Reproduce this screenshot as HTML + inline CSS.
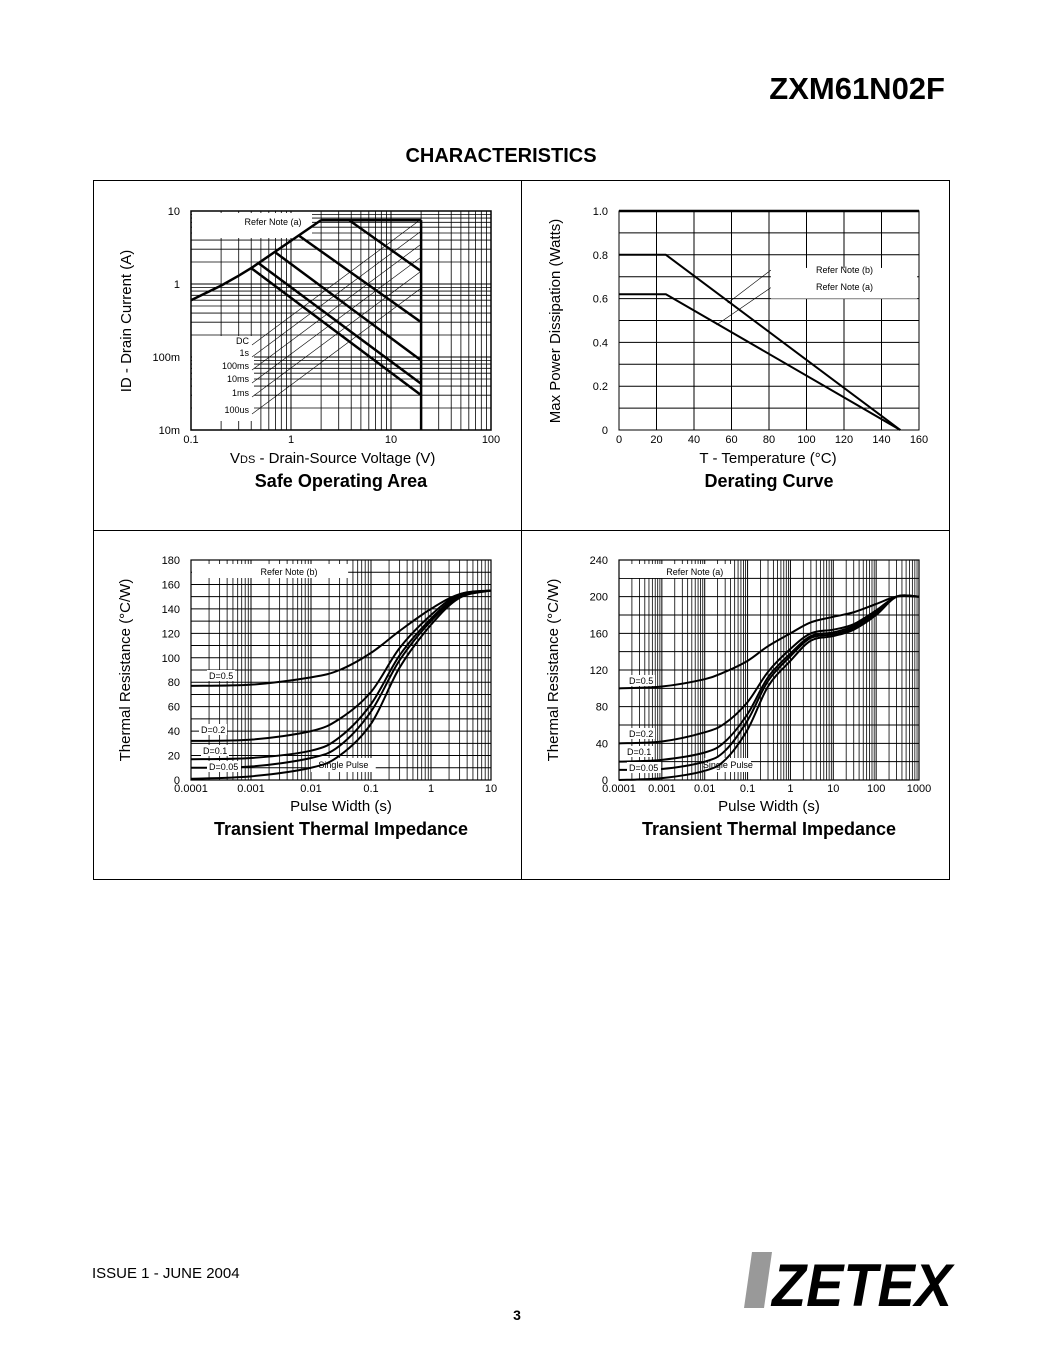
<!DOCTYPE html>
<html><head><meta charset="utf-8"><style>
body{margin:0;background:#fff;}
svg{display:block;font-family:"Liberation Sans",sans-serif;}
</style></head><body>
<svg id="pg" width="1044" height="1350" viewBox="0 0 1044 1350">
<text x="945" y="99" text-anchor="end" font-size="31" font-weight="bold">ZXM61N02F</text>
<text x="501" y="162" text-anchor="middle" font-size="20" font-weight="bold">CHARACTERISTICS</text>
<rect x="93.5" y="180.5" width="856" height="699" fill="none" stroke="#000" stroke-width="1"/>
<line x1="521.5" y1="180" x2="521.5" y2="880" stroke="#000"/>
<line x1="93" y1="530.5" x2="950" y2="530.5" stroke="#000"/>
<g id="soa"></g>
<g id="der"></g>
<g id="tta"></g>
<g id="ttb"></g>
<text x="92" y="1278" font-size="15">ISSUE 1 - JUNE 2004</text>
<text x="517" y="1320" text-anchor="middle" font-size="14" font-weight="bold">3</text>
<g>
<polygon points="752,1252 772,1252 764,1308 744,1308" fill="#999"/>
<text x="772" y="1306" font-size="60" font-weight="bold" font-style="italic" textLength="180" lengthAdjust="spacingAndGlyphs" font-family="'Liberation Sans',sans-serif">ZETEX</text>
</g>
</svg>
<script>
// ---- SOA data ----
const soaLabels = ["DC","1s","100ms","10ms","1ms","100us"];
const soaStartV = [0.4, 0.48, 0.7, 1.2, 3.8, 2];
const soaStartI = [1.65, 1.9, 2.7, 4.6, 7.5, 7.5];
const soaEndI = [0.03, 0.043, 0.09, 0.3, 1.5, 7.5];
const soaEnvV = [0.1, 0.2, 0.3, 0.4, 2];
const soaEnvI = [0.6, 0.95, 1.3, 1.65, 7.5];
const soaVmax = 20;
const soaXTicks = ["0.1","1","10","100"];
const soaYTicks = ["10m","100m","1","10"];
// ---- Derating data ----
const derTemp = [0, 25, 150];
const derPb = [0.8, 0.8, 0];
const derPa = [0.62, 0.62, 0];
const derXTicks = [0,20,40,60,80,100,120,140,160];
const derYTicks = [0,0.2,0.4,0.6,0.8,1.0];
// ---- Transient thermal (note b) ----
const ttaLabels = ["D=0.5","D=0.2","D=0.1","D=0.05","Single Pulse"];
const ttaT = [1e-4,1e-3,1e-2,3e-2,0.1,0.3,1,3,10];
const ttaD05 = [77,78,84,90,104,122,140,152,155];
const ttaD02 = [32,33,40,50,72,108,135,152,155];
const ttaD01 = [17,18,24,35,62,102,132,151,155];
const ttaD005 = [10,11,18,28,56,98,130,150,155];
const ttaSP = [1,3,10,20,46,92,127,149,155];
const ttaXTicks = ["0.0001","0.001","0.01","0.1","1","10"];
const ttaYTicks = [0,20,40,60,80,100,120,140,160,180];
// ---- Transient thermal (note a) ----
const ttbT = [1e-4,1e-3,1e-2,3e-2,0.1,0.3,1,3,10,30,100,300,1000];
const ttbD05 = [100,102,110,118,130,146,160,172,178,183,192,200,200];
const ttbD02 = [40,42,52,62,85,118,143,160,164,170,185,200,200];
const ttbD01 = [20,22,30,42,72,112,138,157,161,168,183,200,200];
const ttbD005 = [11,12,20,32,65,108,135,155,159,166,182,200,200];
const ttbSP = [0,2,10,22,55,102,130,152,157,164,180,200,200];
const ttbXTicks = ["0.0001","0.001","0.01","0.1","1","10","100","1000"];
const ttbYTicks = [0,40,80,120,160,200,240];

const NS="http://www.w3.org/2000/svg";
function el(p,tag,a,txt){const e=document.createElementNS(NS,tag);for(const k in a)e.setAttribute(k,a[k]);if(txt!==undefined)e.textContent=txt;p.appendChild(e);return e;}
function logS(a,b,p0,p1){const la=Math.log10(a),lb=Math.log10(b);return v=>p0+(Math.log10(v)-la)/(lb-la)*(p1-p0);}
function linS(a,b,p0,p1){return v=>p0+(v-a)/(b-a)*(p1-p0);}
function ln(g,x1,y1,x2,y2,w,name){const l=el(g,'line',{x1,y1,x2,y2,stroke:'#000','stroke-width':w});

return l;}
function txt(g,x,y,s,size,anchor,name,extra){const t=el(g,'text',Object.assign({x,y,'font-size':size,'text-anchor':anchor||'start'},extra||{}),s);

return t;}
function poly(g,xs,ys,X,Y,w,name){const d=xs.map((v,i)=>(i?'L':'M')+X(v).toFixed(1)+','+Y(ys[i]).toFixed(1)).join('');
const p=el(g,'path',{d,fill:'none',stroke:'#000','stroke-width':w,'stroke-linejoin':'round'});

return p;}
function smooth(g,xs,ys,X,Y,w,name){const pts=xs.map((v,i)=>[X(v),Y(ys[i])]);let d='M'+pts[0][0]+','+pts[0][1];
for(let i=0;i<pts.length-1;i++){const p0=pts[i-1]||pts[i],p1=pts[i],p2=pts[i+1],p3=pts[i+2]||p2;
d+=' C'+(p1[0]+(p2[0]-p0[0])/6)+','+(p1[1]+(p2[1]-p0[1])/6)+' '+(p2[0]-(p3[0]-p1[0])/6)+','+(p2[1]-(p3[1]-p1[1])/6)+' '+p2[0]+','+p2[1];}
const p=el(g,'path',{d,fill:'none',stroke:'#000','stroke-width':w});

return p;}
function logGridX(g,X,d0,d1,y0,y1){for(let e=d0;e<d1;e++)for(let m=1;m<10;m++){const x=X(m*Math.pow(10,e));ln(g,x,y0,x,y1,m===1?1:0.8,'grid-v');}}

// ===== SOA =====
(function(){const g=document.getElementById('soa');const x0=191,x1=491,y0=211,y1=430;
const X=logS(0.1,100,x0,x1),Y=logS(0.01,10,y1,y0);
logGridX(g,X,-1,2,y0,y1);
for(let e=-2;e<1;e++)for(let m=1;m<10;m++){const y=Y(m*Math.pow(10,e));ln(g,x0,y,x1,y,m===1?1:0.8,'grid-h');}
el(g,'rect',{x:x0+1,y:y0+2,width:120,height:25,fill:'#fff'});
el(g,'rect',{x:x0+1,y:y0+125,width:62,height:85,fill:'#fff'});
el(g,'rect',{x:x0,y:y0,width:x1-x0,height:y1-y0,fill:'none',stroke:'#000','stroke-width':1.5});
txt(g,273,225,'Refer Note (a)',9,'middle','soa-note-label');
poly(g,soaEnvV,soaEnvI,X,Y,2.5,'soa-rdson-limit');
ln(g,X(2),Y(7.5),X(soaVmax),Y(7.5),2.5,'soa-current-limit');
ln(g,X(soaVmax),Y(7.5),X(soaVmax),y1,2.5,'soa-voltage-limit');
const ly=[341,353,366,379,393,410];
const slope=-0.744;
soaLabels.forEach((s,i)=>{const ax=X(soaStartV[i]),ay=Y(soaStartI[i]),bx=X(soaVmax),by=Y(soaEndI[i]);
ln(g,ax,ay,bx,by,2.5,'soa-line-'+s);
txt(g,249,ly[i]+3,s,9,'end','soa-label-'+s);
// leader: parallel diagonal from label toward curve i
const sx=252,sy=ly[i]+4,m=(by-ay)/(bx-ax);
let ex=sx+(ay-m*ax - (sy-slope*sx))/(slope-m);
if(!(ex>sx&&ex<=bx))ex=420;
ln(g,sx,sy,ex,sy+slope*(ex-sx),0.6,'soa-leader-'+s);});
soaXTicks.forEach((s,i)=>txt(g,x0+i*100,443,s,11,'middle','soa-x-tick'));
soaYTicks.forEach((s,i)=>txt(g,180,Y(Math.pow(10,i-2))+4,s,11,'end','soa-y-tick'));
const t=txt(g,230,463,'',15,'start','soa-x-title');t.innerHTML='V<tspan font-size="11">DS</tspan> - Drain-Source Voltage (V)';
txt(g,131,321,'ID - Drain Current (A)',15,'middle','soa-y-title',{transform:'rotate(-90 131 321)'});
txt(g,341,487,'Safe Operating Area',18,'middle','soa-title',{'font-weight':'bold'});
})();

// ===== Derating =====
(function(){const g=document.getElementById('der');const x0=619,x1=919,y0=211,y1=430;
const X=linS(0,160,x0,x1),Y=linS(0,1,y1,y0);
for(let v=0;v<=160;v+=20)ln(g,X(v),y0,X(v),y1,1,'grid-v');
for(let v=0;v<=1.001;v+=0.1)ln(g,x0,Y(v),x1,Y(v),1,'grid-h');
el(g,'rect',{x:X(81),y:Y(0.74),width:X(159)-X(81),height:Y(0.6)-Y(0.74),fill:'#fff'});
el(g,'rect',{x:x0,y:y0,width:x1-x0,height:y1-y0,fill:'none',stroke:'#000','stroke-width':1});
ln(g,x0,y0,x1,y0,2.5,'der-top');
poly(g,derTemp,derPb,X,Y,2,'der-line-note-b');
poly(g,derTemp,derPa,X,Y,2,'der-line-note-a');
ln(g,X(58),Y(0.58),X(81),Y(0.73),0.6,'der-leader-b');ln(g,X(52),Y(0.48),X(81),Y(0.65),0.6,'der-leader-a');
txt(g,873,273,'Refer Note (b)',9,'end','der-note-b');txt(g,873,290,'Refer Note (a)',9,'end','der-note-a');
derXTicks.forEach(v=>txt(g,X(v),443,String(v),11,'middle','der-x-tick'));
derYTicks.forEach(v=>txt(g,608,Y(v)+4,v===0?'0':v.toFixed(1),11,'end','der-y-tick'));
txt(g,768,463,'T - Temperature (°C)',15,'middle','der-x-title');
txt(g,560,321,'Max Power Dissipation (Watts)',15,'middle','der-y-title',{transform:'rotate(-90 560 321)'});
txt(g,769,487,'Derating Curve',18,'middle','der-title',{'font-weight':'bold'});
})();

// ===== Transient thermal =====
function tt(id,T,series,labels,xt,yt,ymax,ystep,note,xMaxExp,cx,ltitle,lab){
const g=document.getElementById(id);const x0=cx,x1=cx+300,y0=560,y1=780;
const X=logS(1e-4,Math.pow(10,xMaxExp),x0,x1),Y=linS(0,ymax,y1,y0);
logGridX(g,X,-4,xMaxExp,y0,y1);
for(let v=0;v<=ymax;v+=ystep)ln(g,x0,Y(v),x1,Y(v),1,'grid-h');
el(g,'rect',{x:x0+1,y:y0+4,width:X(0.04)-x0,height:14,fill:'#fff'});
el(g,'rect',{x:X(0.01),y:y1-22,width:X(0.12)-X(0.01),height:14,fill:'#fff'});
el(g,'rect',{x:x0,y:y0,width:x1-x0,height:y1-y0,fill:'none',stroke:'#000','stroke-width':1.2});
txt(g,(x0+X(0.04))/2+20,575,note,9,'middle',id+'-note');
txt(g,(X(0.01)+X(0.12))/2,768,'Single Pulse',9,'middle',id+'-single-pulse-label');
series.forEach((s,i)=>smooth(g,T,s,X,Y,2,id+'-curve-'+labels[i]));
lab.forEach((p,i)=>{el(g,'rect',{x:p[0]-2,y:p[1]-9,width:p[2],height:11,fill:'#fff'});txt(g,p[0],p[1],labels[i],9,'start',id+'-label-'+labels[i]);});
xt.forEach((s,i)=>txt(g,X(Math.pow(10,i-4)),792,s,11,'middle',id+'-x-tick'));
yt.forEach(v=>txt(g,cx-11,Y(v)+4,String(v),11,'end',id+'-y-tick'));
txt(g,(x0+x1)/2,811,'Pulse Width (s)',15,'middle',id+'-x-title');
txt(g,cx-61,670,'Thermal Resistance (°C/W)',15,'middle',id+'-y-title',{transform:'rotate(-90 '+(cx-61)+' 670)'});
txt(g,(x0+x1)/2,835,ltitle,18,'middle',id+'-title',{'font-weight':'bold'});
}
tt('tta',ttaT,[ttaD05,ttaD02,ttaD01,ttaD005,ttaSP],ttaLabels,ttaXTicks,ttaYTicks,180,10,'Refer Note (b)',1,191,'Transient Thermal Impedance',
 [[209,679,28],[201,733,28],[203,754,28],[209,770,34]]);
tt('ttb',ttbT,[ttbD05,ttbD02,ttbD01,ttbD005,ttbSP],ttaLabels,ttbXTicks,ttbYTicks,240,20,'Refer Note (a)',3,619,'Transient Thermal Impedance',
 [[629,684,28],[629,737,28],[627,755,28],[629,771,34]]);
</script>
</body></html>
